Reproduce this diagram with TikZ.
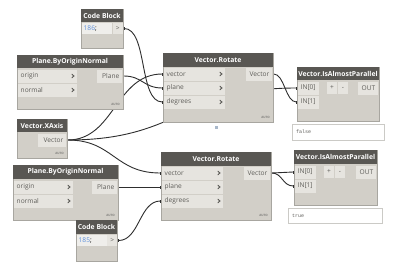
\documentclass[tikz,border=0pt]{standalone}
\usepackage{fontspec}
\setmainfont{Open Sans}
\setmonofont{Liberation Mono}
\usetikzlibrary{arrows.meta}
\pgfdeclarelayer{canvas}
\pgfdeclarelayer{wires}
\pgfsetlayers{canvas,wires,main}
\definecolor{headgrey}{HTML}{595753}
\definecolor{bodygrey}{HTML}{D2CFC8}
\definecolor{portgrey}{HTML}{E6E4DF}
\definecolor{codefill}{HTML}{EFEEEB}
\definecolor{edgegrey}{HTML}{A8A6A0}
\definecolor{labelgrey}{HTML}{5F5E5A}
\definecolor{wiregrey}{HTML}{2E2E2E}
\definecolor{codeblue}{HTML}{5B8EDB}
\definecolor{pinblue}{HTML}{A9B8CA}
\newcommand{\titlefont}{\fontsize{6.8}{7}\selectfont\bfseries}
\newcommand{\portfont}{\fontsize{6.6}{7}\selectfont}
\newcommand{\autofont}{\fontsize{3}{3}\selectfont\bfseries}

\tikzset{
  body/.style={fill=bodygrey, draw=edgegrey, line width=0.5pt},
  head/.style={fill=headgrey},
  title/.style={font=\titlefont, text=white, inner sep=0},
  inport/.style={anchor=west, fill=portgrey, font=\portfont, text=labelgrey,
    inner xsep=3pt, inner ysep=0pt, text width=#1pt, minimum height=13pt, align=left},
  outport/.style={anchor=east, fill=portgrey, font=\portfont, text=labelgrey,
    inner xsep=3pt, inner ysep=0pt, text width=#1pt, minimum height=13pt, align=right},
  chev/.style={draw=labelgrey!90!black, line width=0.9pt, line cap=round},
  btn/.style={fill=portgrey, font=\portfont, text=labelgrey, inner sep=0pt,
    minimum width=10pt, minimum height=12pt},
  cbout/.style={anchor=west, fill=portgrey, font=\portfont, text=labelgrey,
    inner sep=0pt, minimum width=10pt, minimum height=11pt},
  autotag/.style={font=\autofont, text=labelgrey!80, inner sep=0pt, anchor=south east},
  result/.style={fill=white, draw=edgegrey!60, line width=0.4pt},
  restext/.style={anchor=west, font=\fontsize{5}{6}\selectfont\ttfamily, text=labelgrey, inner sep=0pt},
  wire/.style={draw=wiregrey, line width=0.9pt,
    {Rectangle[length=1.6pt,width=3pt]}-{Rectangle[length=1.6pt,width=3pt]}},
}
% chevron drawn at the right end of an input port
\newcommand{\chevat}[1]{\draw[chev] ([xshift=-5pt,yshift=-1.8pt]#1.east) -- ([xshift=-3pt]#1.east) -- ([xshift=-5pt,yshift=1.8pt]#1.east);}

\begin{document}
\begin{tikzpicture}[x=1pt,y=-1pt]
  \begin{pgfonlayer}{canvas}
    \fill[white] (0,0) rectangle (399,271);
  \end{pgfonlayer}
  \useasboundingbox (0,0) rectangle (399,271);

  % Code Block (top)
  \draw[body] (81,9) rectangle (123,48);
  \fill[head] (81,9) rectangle (123,22) node[midway,title] {Code Block};
  \fill[codefill] (82,23) rectangle (112,34);
  \node[anchor=west, font=\portfont, inner sep=0pt] (cbtop-txt) at (83.5,28.5)
    {\textcolor{codeblue}{186};};
  \node[cbout] (cbtop-out) at (112.5,28.5) {>};

  % Plane.ByOriginNormal (top)
  \draw[body] (17,55) rectangle (123,109);
  \fill[head] (17,55) rectangle (123,68) node[midway,title] {Plane.ByOriginNormal};
  \node[inport=53] (pltop-origin) at (17.5,76) {origin};
  \node[inport=53] (pltop-normal) at (17.5,90) {normal};
  \chevat{pltop-origin}
  \chevat{pltop-normal}
  \node[outport=19] (pltop-out) at (122.5,76) {Plane};
  \node[autotag] at (120,106) {AUTO};

  % Vector.XAxis
  \draw[body] (17,119) rectangle (67,158);
  \fill[head] (17,119) rectangle (67,132) node[midway,title] {Vector.XAxis};
  \node[outport=22] (xaxis-out) at (66.5,140) {Vector};
  \node[autotag] at (64,155) {AUTO};

  % Vector.Rotate (top)
  \draw[body] (163,53) rectangle (273,122);
  \fill[head] (163,53) rectangle (273,67) node[midway,title] {Vector.Rotate};
  \node[inport=55] (rtop-vector) at (163.5,74) {vector};
  \node[inport=55] (rtop-plane) at (163.5,88) {plane};
  \node[inport=55] (rtop-deg) at (163.5,102) {degrees};
  \foreach \p in {vector,plane,deg}
    \chevat{rtop-\p}
  \node[outport=20] (rtop-out) at (272.5,74) {Vector};
  \node[autotag] at (270,119) {AUTO};
  \fill[pinblue] (214.5,125.5) rectangle (217.5,128.5);

  % Vector.IsAlmostParallel (top)
  \draw[body] (297,67) rectangle (379,121);
  \fill[head] (297,67) rectangle (379,80) node[midway,title] {Vector.IsAlmostParallel};
  \node[inport=15] (ptop-in0) at (297.5,88) {IN[0]};
  \node[inport=15] (ptop-in1) at (297.5,102) {IN[1]};
  \node[btn] at (332,88) {+};
  \node[btn] at (343,88) {-};
  \node[outport=14] (ptop-out) at (378.5,88) {OUT};
  \draw[result] (292,124) rectangle (384,140);
  \node[restext] (ptop-res) at (296,132) {false};

  % Plane.ByOriginNormal (bottom)
  \draw[body] (13,165) rectangle (118,220);
  \fill[head] (13,165) rectangle (118,179) node[midway,title] {Plane.ByOriginNormal};
  \node[inport=53] (plbot-origin) at (13.5,187) {origin};
  \node[inport=53] (plbot-normal) at (13.5,201) {normal};
  \chevat{plbot-origin}
  \chevat{plbot-normal}
  \node[outport=19] (plbot-out) at (117.5,187) {Plane};
  \node[autotag] at (115,217) {AUTO};

  % Code Block (bottom)
  \draw[body] (76,220) rectangle (117,261);
  \fill[head] (76,220) rectangle (117,234) node[midway,title] {Code Block};
  \fill[codefill] (77,235) rectangle (107,246);
  \node[anchor=west, font=\portfont, inner sep=0pt] (cbbot-txt) at (78.5,240.5)
    {\textcolor{codeblue}{185};};
  \node[cbout] (cbbot-out) at (107,240.5) {>};

  % Vector.Rotate (bottom)
  \draw[body] (161,152) rectangle (271,220);
  \fill[head] (161,152) rectangle (271,166) node[midway,title] {Vector.Rotate};
  \node[inport=55] (rbot-vector) at (161.5,173) {vector};
  \node[inport=55] (rbot-plane) at (161.5,187) {plane};
  \node[inport=55] (rbot-deg) at (161.5,201) {degrees};
  \foreach \p in {vector,plane,deg}
    \chevat{rbot-\p}
  \node[outport=20] (rbot-out) at (270.5,173) {Vector};
  \node[autotag] at (268,217) {AUTO};

  % Vector.IsAlmostParallel (bottom)
  \draw[body] (294,150) rectangle (377,205);
  \fill[head] (294,150) rectangle (377,164) node[midway,title] {Vector.IsAlmostParallel};
  \node[inport=15] (pbot-in0) at (294.5,172) {IN[0]};
  \node[inport=15] (pbot-in1) at (294.5,186) {IN[1]};
  \node[btn] at (329,172) {+};
  \node[btn] at (340,172) {-};
  \node[outport=14] (pbot-out) at (376.5,172) {OUT};
  \draw[result] (288,208) rectangle (382,223);
  \node[restext] (pbot-res) at (292,215.5) {true};

  % wires
  \begin{pgfonlayer}{wires}
    \draw[wire] (cbtop-out.east) .. controls +(25,0) and +(-25,0) .. (rtop-deg.west);
    \draw[wire] (pltop-out.east) .. controls +(20,0) and +(-20,0) .. (rtop-plane.west);
    \draw[wire] (xaxis-out.east) .. controls +(48,0) and +(-48,0) .. (rtop-vector.west);
    \draw[wire] (xaxis-out.east) .. controls +(115,0) and +(-115,0) .. (ptop-in0.west);
    \draw[wire] (rtop-out.east) .. controls +(12,0) and +(-12,0) .. (ptop-in1.west);
    \draw[wire] (xaxis-out.east) .. controls +(47,0) and +(-47,0) .. (rbot-vector.west);
    \draw[wire] (plbot-out.east) -- (rbot-plane.west);
    \draw[wire] (cbbot-out.east) .. controls +(22,0) and +(-22,0) .. (rbot-deg.west);
    \draw[wire] (rbot-out.east) .. controls +(12,0) and +(-12,0) .. (pbot-in0.west);
    \draw[wire] (rbot-out.east) .. controls +(12,0) and +(-12,0) .. (pbot-in1.west);
  \end{pgfonlayer}
\end{tikzpicture}
\end{document}
